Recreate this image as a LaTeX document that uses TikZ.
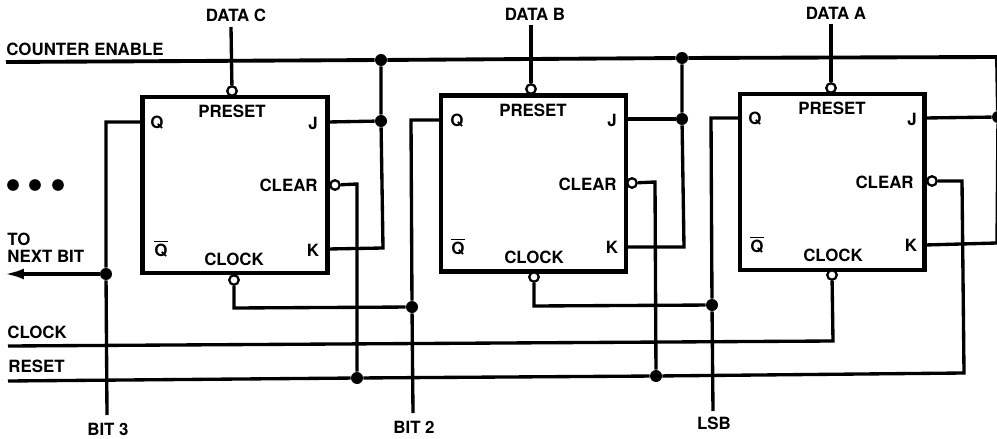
\documentclass[tikz,border=0pt]{standalone}
\usepackage{fontspec}
\setmainfont{TeX Gyre Heros}
\usepackage{xcolor}
\usetikzlibrary{arrows.meta}
\tikzset{
    ffbox/.style={draw, line width=2.3pt, minimum width=3.7cm, minimum height=3.52cm, inner sep=0pt},
    wire/.style={line width=1.9pt, line join=miter},
    busline/.style={line width=2.2pt},
    bubble/.style={circle, draw, fill=white, line width=1.3pt, minimum size=0.19cm, inner sep=0pt},
    junction/.style={circle, fill=black, minimum size=0.24cm, inner sep=0pt},
    pin/.style={font=\fontsize{9.6}{11}\selectfont\bfseries, inner sep=0pt},
}

\begin{document}
\begin{tikzpicture}[x=0.02cm, y=-0.02cm]
    \useasboundingbox (0, 0) rectangle (997, 439);

    \node[ffbox] (ffC) at (235, 185) {};
    \node[ffbox] (ffB) at (533.5, 183.5) {};
    \node[ffbox] (ffA) at (832, 182) {};

    \node[pin] (dataC) at (236, 15) {DATA C};
    \node[pin] (dataB) at (535, 14) {DATA B};
    \node[pin] (dataA) at (836, 13) {DATA A};
    \node[pin, anchor=west] (enableText) at (6, 49) {COUNTER ENABLE};
    \node[pin, anchor=west] (toText) at (7, 239) {TO};
    \node[pin, anchor=west] (nextText) at (7, 256) {NEXT BIT};
    \node[pin, anchor=west] (clockText) at (7, 332) {CLOCK};
    \node[pin, anchor=west] (resetText) at (8, 366) {RESET};
    \node[pin] (bit3) at (108, 429) {BIT 3};
    \node[pin] (bit2) at (414, 427) {BIT 2};
    \node[pin] (lsb) at (714, 423) {LSB};

    \node[pin] (presetTextC) at (232, 111) {PRESET};
    \node[pin] (qTextC) at (157, 123) {Q};
    \node[pin] (jTextC) at (313, 123) {J};
    \node[pin, anchor=east] (clearTextC) at (318, 185) {CLEAR};
    \node[pin] (nqTextC) at (161, 249) {$\overline{\mbox{Q}}$};
    \node[pin] (clockTextC) at (234, 259) {CLOCK};
    \node[pin] (kTextC) at (313, 250) {K};

    \node[pin] (presetTextB) at (533, 110) {PRESET};
    \node[pin] (qTextB) at (457, 121) {Q};
    \node[pin] (jTextB) at (612, 120) {J};
    \node[pin, anchor=east] (clearTextB) at (617, 184) {CLEAR};
    \node[pin] (nqTextB) at (458, 247) {$\overline{\mbox{Q}}$};
    \node[pin] (clockTextB) at (534, 257) {CLOCK};
    \node[pin] (kTextB) at (612, 247) {K};

    \node[pin] (presetTextA) at (832, 108) {PRESET};
    \node[pin] (qTextA) at (755, 119) {Q};
    \node[pin] (jTextA) at (912, 119) {J};
    \node[pin, anchor=east] (clearTextA) at (914, 182) {CLEAR};
    \node[pin] (nqTextA) at (757, 245) {$\overline{\mbox{Q}}$};
    \node[pin] (clockTextA) at (833, 255) {CLOCK};
    \node[pin] (kTextA) at (911, 245) {K};

    \node[bubble] (presetC) at (232, 91) {};
    \node[bubble] (presetB) at (531, 89) {};
    \node[bubble] (presetA) at (831, 88) {};
    \node[bubble] (clearC) at (335, 185) {};
    \node[bubble] (clearB) at (632, 183) {};
    \node[bubble] (clearA) at (932, 181) {};
    \node[bubble] (clockC) at (234, 280) {};
    \node[bubble] (clockB) at (534, 277) {};
    \node[bubble] (clockA) at (832, 275) {};

    \node[junction] (enableC) at (381, 60) {};
    \node[junction] (enableB) at (682, 58) {};
    \node[junction] (jC) at (381, 121) {};
    \node[junction] (jB) at (682, 119) {};
    \node[junction] (jA) at (998, 117) {};
    \node[junction] (nextC) at (106, 274) {};
    \node[junction] (qB) at (412, 307) {};
    \node[junction] (qA) at (712, 305) {};
    \node[junction] (resetC) at (357, 378) {};
    \node[junction] (resetB) at (656, 376) {};

    \coordinate (enableIn) at (6, 62);
    \coordinate (enableOut) at (997, 57);
    \coordinate (clockIn) at (8, 346);
    \coordinate (clockOut) at (833, 341);
    \coordinate (resetIn) at (8, 381);
    \coordinate (resetOut) at (964, 373);
    \coordinate (nextOut) at (5, 274);

    \draw[busline] (enableIn) -- (enableC) -- (enableB) -- (enableOut) -- (jA);
    \draw[wire] (clockIn) -- (clockOut) -- (clockA);
    \draw[wire] (resetIn) -- (resetC) -- (resetB) -- (resetOut) -- (962, 181) -- (clearA);

    \draw[wire] (231, 27) -- (presetC);
    \draw[wire] (531, 25) -- (presetB);
    \draw[wire] (831, 24) -- (presetA);

    \draw[wire] (143, 122) -- (106, 122) -- (nextC) -- (107, 415);
    \draw[wire] (441, 120) -- (411, 120) -- (qB) -- (413, 413);
    \draw[wire] (739, 118) -- (711, 118) -- (qA) -- (713, 411);
    \draw[wire, -{Latex[length=0.38cm, width=0.22cm]}] (nextC) -- (nextOut);

    \draw[wire] (clockC) -- (234, 308) -- (qB);
    \draw[wire] (clockB) -- (534, 306) -- (qA);

    \draw[wire] (clearC) -- (357, 184) -- (resetC);
    \draw[wire] (clearB) -- (655, 182) -- (resetB);

    \draw[wire] (enableC) -- (jC) -- (383, 248) -- (328, 249);
    \draw[wire] (enableB) -- (jB) -- (684, 247) -- (627, 247);
    \draw[wire] (328, 122) -- (jC);
    \draw[wire] (627, 119) -- (jB);
    \draw[wire] (925, 118) -- (jA);
    \draw[wire] (925, 245) -- (997, 243) -- (jA);

    \fill (13, 185) circle (0.117cm) coordinate (dotOne);
    \fill (35, 185) circle (0.117cm) coordinate (dotTwo);
    \fill (58, 185) circle (0.117cm) coordinate (dotThree);
\end{tikzpicture}
\end{document}
